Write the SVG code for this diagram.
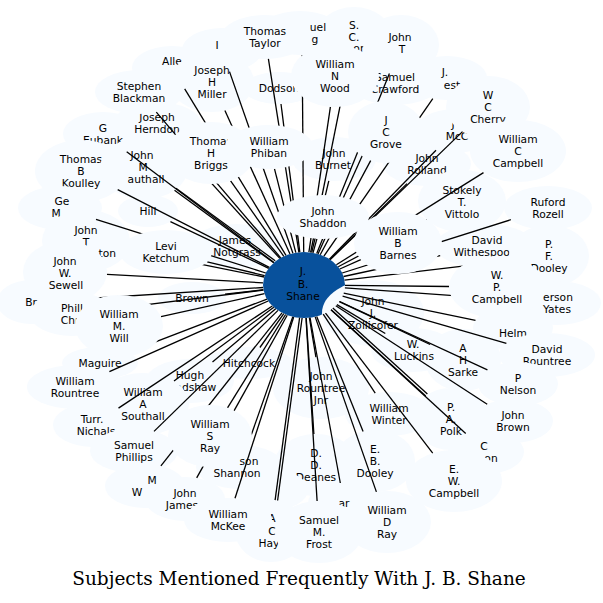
<svg xmlns="http://www.w3.org/2000/svg" width="603" height="603" viewBox="0 0 603 603">
<style>
.n ellipse{fill:#f7fbff;stroke:none}
text{font-family:"DejaVu Sans","Liberation Sans",sans-serif;font-size:10.7px;text-anchor:middle;fill:#000}
#edges path{stroke:#000;stroke-width:1.3;fill:none}
.title{font-family:"DejaVu Serif","Liberation Serif",serif;font-size:18.5px}
</style>
<rect width="603" height="603" fill="#fff"/>
<g id="under">
<g id="n-i" class="n"><ellipse cx="222" cy="50" rx="40" ry="22"/><text x="217" y="49">I</text></g>
<g id="n-sc" class="n"><ellipse cx="354" cy="37" rx="38" ry="30"/><text x="354" y="29">S.</text><text x="354" y="41">C.</text><text x="362" y="52">ore</text></g>
<g id="n-uel" class="n"><ellipse cx="300" cy="33" rx="42" ry="22"/><text x="318" y="31">uel</text><text x="315" y="43">g</text></g>
<g id="n-johnt" class="n"><ellipse cx="401" cy="45" rx="38" ry="30"/><text x="400" y="41">John</text><text x="402" y="53">T</text></g>
<g id="n-alle" class="n"><ellipse cx="172" cy="68" rx="40" ry="22"/><text x="172" y="65">Alle</text></g>
<g id="n-jest" class="n"><ellipse cx="447" cy="78" rx="40" ry="22"/><text x="445" y="76">J.</text><text x="452" y="89">est</text></g>
<g id="n-eubank" class="n"><ellipse cx="103" cy="134" rx="40" ry="22"/><text x="103" y="132">G<tspan x="103" dy="12">Eubank</tspan></text></g>
<g id="n-herndon" class="n"><ellipse cx="157" cy="124" rx="44" ry="22"/><text x="157" y="121">Joseph<tspan x="157" dy="12">Herndon</tspan></text></g>
<g id="n-blackman" class="n"><ellipse cx="139" cy="92" rx="44" ry="22"/><text x="139" y="90">Stephen<tspan x="139" dy="12">Blackman</tspan></text></g>
<g id="n-koulley" class="n"><ellipse cx="81" cy="171" rx="46" ry="31"/><text x="81" y="163">Thomas<tspan x="81" dy="12">B</tspan><tspan x="81" dy="12">Koulley</tspan></text></g>
<g id="n-gem" class="n"><ellipse cx="60" cy="208" rx="42" ry="22"/><text x="62" y="205">Ge</text><text x="56" y="217">M</text></g>
<g id="n-johnton" class="n"><ellipse cx="86" cy="241" rx="44" ry="31"/><text x="86" y="234">John<tspan x="86" dy="12">T</tspan></text><text x="116" y="257" style="text-anchor:end">ton</text></g>
<g id="n-authall" class="n"><ellipse cx="144" cy="168" rx="44" ry="31"/><text x="142" y="159">John</text><text x="143" y="171">M</text><text x="146" y="183">authall</text></g>
<g id="n-miller" class="n"><ellipse cx="212" cy="82" rx="42" ry="30"/><text x="212" y="74">Joseph<tspan x="212" dy="12">H</tspan><tspan x="212" dy="12">Miller</tspan></text></g>
<g id="n-taylor" class="n"><ellipse cx="265" cy="37" rx="44" ry="22"/><text x="265" y="35">Thomas<tspan x="265" dy="12">Taylor</tspan></text></g>
<g id="n-crawford" class="n"><ellipse cx="395" cy="83" rx="46" ry="22"/><text x="395" y="81">Samuel<tspan x="395" dy="12">Crawford</tspan></text></g>
<g id="n-mcc" class="n"><ellipse cx="455" cy="131" rx="40" ry="22"/><text x="453" y="128">J</text><text x="457" y="140">McC</text></g>
<g id="n-cherry" class="n"><ellipse cx="488" cy="107" rx="42" ry="31"/><text x="488" y="99">W<tspan x="488" dy="12">C</tspan><tspan x="488" dy="12">Cherry</tspan></text></g>
<g id="n-rolland" class="n"><ellipse cx="427" cy="164" rx="44" ry="22"/><text x="427" y="162">John<tspan x="427" dy="12">Rolland</tspan></text></g>
<g id="n-wccampbell" class="n"><ellipse cx="518" cy="151" rx="48" ry="31"/><text x="518" y="143">William<tspan x="518" dy="12">C</tspan><tspan x="518" dy="12">Campbell</tspan></text></g>
<g id="n-stokely" class="n"><ellipse cx="462" cy="201" rx="44" ry="31"/><text x="462" y="194">Stokely<tspan x="462" dy="12">T.</tspan><tspan x="462" dy="12">Vittolo</tspan></text></g>
<g id="n-ruford" class="n"><ellipse cx="548" cy="208" rx="44" ry="22"/><text x="548" y="206">Ruford<tspan x="548" dy="12">Rozell</tspan></text></g>
<g id="n-withespoon" class="n"><ellipse cx="485" cy="246" rx="50" ry="22"/><text x="487" y="244">David</text><text x="485" y="256">Withespoon</text></g>
<g id="n-pfdooley" class="n"><ellipse cx="549" cy="256" rx="40" ry="31"/><text x="549" y="248">P.<tspan x="549" dy="12">F.</tspan><tspan x="549" dy="12">Dooley</tspan></text></g>
<g id="n-yates" class="n"><ellipse cx="557" cy="303" rx="44" ry="22"/><text x="558" y="301">erson</text><text x="557" y="313">Yates</text></g>
<g id="n-helm" class="n"><ellipse cx="513" cy="328" rx="40" ry="22"/><text x="513" y="337">Helm</text></g>
<g id="n-drountree" class="n"><ellipse cx="547" cy="355" rx="48" ry="22"/><text x="547" y="353">David<tspan x="547" dy="12">Rountree</tspan></text></g>
<g id="n-sarke" class="n"><ellipse cx="463" cy="360" rx="38" ry="31"/><text x="463" y="352">A<tspan x="463" dy="12">H</tspan><tspan x="463" dy="12">Sarke</tspan></text></g>
<g id="n-luckins" class="n"><ellipse cx="413" cy="350" rx="42" ry="22"/><text x="413" y="348">W.</text><text x="414" y="360">Luckins</text></g>
<g id="n-nelson" class="n"><ellipse cx="518" cy="384" rx="40" ry="22"/><text x="518" y="382">P<tspan x="518" dy="12">Nelson</tspan></text></g>
<g id="n-jbrown" class="n"><ellipse cx="513" cy="421" rx="40" ry="22"/><text x="513" y="419">John<tspan x="513" dy="12">Brown</tspan></text></g>
<g id="n-con" class="n"><ellipse cx="486" cy="452" rx="38" ry="22"/><text x="484" y="450">C</text><text x="491" y="462">on</text></g>
<g id="n-polk" class="n"><ellipse cx="451" cy="419" rx="38" ry="31"/><text x="451" y="411">P.<tspan x="451" dy="12">A.</tspan><tspan x="451" dy="12">Polk</tspan></text></g>
<g id="n-ewcampbell" class="n"><ellipse cx="454" cy="481" rx="48" ry="31"/><text x="454" y="473">E.<tspan x="454" dy="12">W.</tspan><tspan x="454" dy="12">Campbell</tspan></text></g>
<g id="n-winter" class="n"><ellipse cx="389" cy="414" rx="44" ry="22"/><text x="389" y="412">William<tspan x="389" dy="12">Winter</tspan></text></g>
<g id="n-ebdooley" class="n"><ellipse cx="375" cy="461" rx="40" ry="31"/><text x="375" y="453">E.<tspan x="375" dy="12">B.</tspan><tspan x="375" dy="12">Dooley</tspan></text></g>
<g id="n-ar" class="n"><ellipse cx="344" cy="503" rx="36" ry="20"/><text x="344" y="507">ar</text></g>
<g id="n-wdray" class="n"><ellipse cx="387" cy="522" rx="44" ry="31"/><text x="387" y="514">William<tspan x="387" dy="12">D</tspan><tspan x="387" dy="12">Ray</tspan></text></g>
<g id="n-hay" class="n"><ellipse cx="271" cy="531" rx="36" ry="31"/><text x="272" y="522">A</text><text x="272" y="535">C</text><text x="269" y="547">Hay</text></g>
<g id="n-frost" class="n"><ellipse cx="319" cy="532" rx="44" ry="31"/><text x="319" y="524">Samuel<tspan x="319" dy="12">M.</tspan><tspan x="319" dy="12">Frost</tspan></text></g>
<g id="n-deanes" class="n"><ellipse cx="316" cy="465" rx="42" ry="31"/><text x="316" y="457">D.<tspan x="316" dy="12">D.</tspan><tspan x="316" dy="12">Deanes</tspan></text></g>
<g id="n-mp" class="n"><ellipse cx="272" cy="490" rx="36" ry="20"/></g>
<g id="n-mw" class="n"><ellipse cx="145" cy="486" rx="40" ry="22"/><text x="152" y="484">M</text><text x="137" y="496">W</text></g>
<g id="n-jjames" class="n"><ellipse cx="185" cy="499" rx="40" ry="22"/><text x="185" y="497">John</text><text x="182" y="509">James</text></g>
<g id="n-mckee" class="n"><ellipse cx="228" cy="520" rx="44" ry="22"/><text x="228" y="518">William<tspan x="228" dy="12">McKee</tspan></text></g>
<g id="n-shannon" class="n"><ellipse cx="240" cy="467" rx="44" ry="22"/><text x="249" y="465">son</text><text x="237" y="477">Shannon</text></g>
<g id="n-nichals" class="n"><ellipse cx="93" cy="425" rx="40" ry="22"/><text x="92" y="423">Turr.</text><text x="96" y="435">Nichals</text></g>
<g id="n-sphillips" class="n"><ellipse cx="134" cy="451" rx="44" ry="22"/><text x="134" y="449">Samuel<tspan x="134" dy="12">Phillips</tspan></text></g>
<g id="n-bradshaw" class="n"><ellipse cx="190" cy="381" rx="44" ry="22"/><text x="190" y="379">Hugh<tspan x="190" dy="12">Bradshaw</tspan></text></g>
<g id="n-southall" class="n"><ellipse cx="143" cy="404" rx="46" ry="31"/><text x="143" y="396">William<tspan x="143" dy="12">A</tspan><tspan x="143" dy="12">Southall</tspan></text></g>
<g id="n-wrountree" class="n"><ellipse cx="75" cy="387" rx="48" ry="22"/><text x="75" y="385">William<tspan x="75" dy="12">Rountree</tspan></text></g>
<g id="n-maguire" class="n"><ellipse cx="100" cy="363" rx="38" ry="16"/><text x="100" y="367">Maguire</text></g>
<g id="n-br" class="n"><ellipse cx="31" cy="302" rx="34" ry="22"/><text x="31" y="306">Br</text></g>
<g id="n-sewell" class="n"><ellipse cx="65" cy="272" rx="42" ry="31"/><text x="65" y="265">John<tspan x="65" dy="12">W.</tspan><tspan x="66" dy="12">Sewell</tspan></text></g>
<g id="n-hill" class="n"><ellipse cx="148" cy="211" rx="30" ry="16"/><text x="148" y="215">Hill</text></g>
<g id="n-notgrass" class="n"><ellipse cx="236" cy="246" rx="46" ry="22"/><text x="235" y="244">James</text><text x="237" y="256">Notgrass</text></g>
<g id="n-brown" class="n"><ellipse cx="192" cy="298" rx="34" ry="16"/><text x="192" y="302">Brown</text></g>
<g id="n-hitchcock" class="n"><ellipse cx="249" cy="363" rx="44" ry="16"/><text x="249" y="367">Hitchcock</text></g>
<g id="n-rjnr" class="n"><ellipse cx="321" cy="388" rx="48" ry="31"/><text x="321" y="380">John<tspan x="321" dy="12">Rountree</tspan><tspan x="321" dy="12">Jnr</tspan></text></g>
<g id="n-burnet" class="n"><ellipse cx="334" cy="159" rx="42" ry="22"/><text x="334" y="157">John</text><text x="333" y="169">Burnet</text></g>
<g id="n-dodson" class="n"><ellipse cx="279" cy="88" rx="36" ry="16"/><text x="279" y="92">Dodson</text></g>
<g id="n-center"><ellipse cx="304" cy="285" rx="41" ry="33" fill="#08519c"/><text x="303" y="275">J.<tspan x="303" dy="12.5">B.</tspan><tspan x="303" dy="12.5">Shane</tspan></text></g>
<g id="n-zollicofer" class="n"><ellipse cx="373" cy="313" rx="51" ry="33"/><text x="373" y="305">John<tspan x="373" dy="12">J.</tspan><tspan x="373" dy="12">Zollicofer</tspan></text></g>
</g>
<g id="edges">
<path d="M303.7,252L302.2,55"/>
<path d="M298.9,252.3L268.4,58.9"/>
<path d="M310.6,252.5L348,66.6"/>
<path d="M316.7,253.6L389.4,73.6"/>
<path d="M290,254L224.9,110.5"/>
<path d="M286,255.4L184.7,88.8"/>
<path d="M292.9,253.2L229.5,71.6"/>
<path d="M280.7,257.8L156.3,112.2"/>
<path d="M279.8,258.4L175.2,143.1"/>
<path d="M274,262.5L126.7,151.8"/>
<path d="M269.3,267.3L117.7,189.7"/>
<path d="M273.7,262.8L174.5,190.3"/>
<path d="M275.2,260.8L176,188.3"/>
<path d="M283.8,256.3L230.6,180.8"/>
<path d="M295.8,252.6L274.5,168.8"/>
<path d="M299.8,252.2L281,104"/>
<path d="M308.9,252.2L330.4,106.9"/>
<path d="M318,254L385.3,104.5"/>
<path d="M323.9,256.2L432.8,98.6"/>
<path d="M330.2,259.6L462.5,131.6"/>
<path d="M320.2,254.7L370.8,160.4"/>
<path d="M329.4,259.1L436,150.3"/>
<path d="M336.4,264.7L483.5,172.6"/>
<path d="M330,259.5L407,183.6"/>
<path d="M311.7,252.5L328.8,180.8"/>
<path d="M338.2,266.8L426.9,219.7"/>
<path d="M342.2,273L510.8,219.7"/>
<path d="M343.6,276.5L440.2,255.7"/>
<path d="M344.5,280.2L509.5,260.7"/>
<path d="M345,285.4L449,286.5"/>
<path d="M344.9,287.9L513.4,299.9"/>
<path d="M343.7,293.2L475.5,320.3"/>
<path d="M342.6,296.1L506.4,343.3"/>
<path d="M339.3,301.7L430.1,344.5"/>
<path d="M336.9,304.6L385.3,333.5"/>
<path d="M339.8,269L360.8,259.6"/>
<path d="M313,252.8L316.9,238.8"/>
<path d="M264.7,275.6L207.2,261.9"/>
<path d="M268.7,268.3L170.4,221.6"/>
<path d="M265.8,273L96,219.3"/>
<path d="M264.2,277L128.3,249.6"/>
<path d="M263,282.8L107,274.3"/>
<path d="M263.1,287.5L65,300"/>
<path d="M263.4,290.1L112.9,308.9"/>
<path d="M264.5,293.7L161,316.7"/>
<path d="M263.3,289.7L225,294.2"/>
<path d="M267,299.1L128.1,352.3"/>
<path d="M268.2,301L109.4,371.7"/>
<path d="M275.7,308.8L212.5,362.1"/>
<path d="M273.8,307.3L174,381.1"/>
<path d="M272.3,306L118.5,408.1"/>
<path d="M278,310.4L154,431.4"/>
<path d="M282,312.8L160.9,465.9"/>
<path d="M287.2,315.2L196.7,477.9"/>
<path d="M285.6,314.5L227.5,407.8"/>
<path d="M283.8,313.7L259.9,347.5"/>
<path d="M309.4,317.9L315.9,357.2"/>
<path d="M292.8,316.8L247.6,445.3"/>
<path d="M306.2,318L313.9,434"/>
<path d="M316.7,316.4L363.1,431.4"/>
<path d="M323.2,314.1L375.2,393.1"/>
<path d="M310,317.5L340.3,483"/>
<path d="M293.7,317L235,498.3"/>
<path d="M299.6,317.7L275.1,500.2"/>
<path d="M302.1,318L277.6,500.5"/>
<path d="M306,318L317.1,501"/>
<path d="M315.2,316.9L376.4,491.9"/>
<path d="M331.1,309.7L425.7,395.9"/>
<path d="M332.8,307.9L427.4,394.1"/>
<path d="M339.6,301.5L487.4,369.8"/>
<path d="M335.8,305.7L487.2,404.2"/>
<path d="M331,309.8L465.7,433.4"/>
<path d="M325.5,313.1L432.7,453.2"/>
</g>
<g id="over">
<g id="n-briggs" class="n"><ellipse cx="211" cy="153" rx="44" ry="31"/><text x="211" y="145">Thomas<tspan x="211" dy="12">H</tspan><tspan x="211" dy="12">Briggs</tspan></text></g>
<g id="n-phiban" class="n"><ellipse cx="269" cy="147" rx="44" ry="22"/><text x="269" y="145">William<tspan x="269" dy="12">Phiban</tspan></text></g>
<g id="n-wood" class="n"><ellipse cx="335" cy="76" rx="44" ry="31"/><text x="335" y="68">William<tspan x="335" dy="12">N</tspan><tspan x="335" dy="12">Wood</tspan></text></g>
<g id="n-grove" class="n"><ellipse cx="386" cy="132" rx="38" ry="31"/><text x="386" y="124">J<tspan x="386" dy="12">C</tspan><tspan x="386" dy="12">Grove</tspan></text></g>
<g id="n-shaddon" class="n"><ellipse cx="323" cy="217" rx="46" ry="22"/><text x="323" y="215">John<tspan x="323" dy="12">Shaddon</tspan></text></g>
<g id="n-barnes" class="n"><ellipse cx="398" cy="243" rx="44" ry="31"/><text x="398" y="235">William<tspan x="398" dy="12">B</tspan><tspan x="398" dy="11.5">Barnes</tspan></text></g>
<g id="n-ketchum" class="n"><ellipse cx="166" cy="252" rx="46" ry="22"/><text x="166" y="250">Levi<tspan x="166" dy="12">Ketchum</tspan></text></g>
<g id="n-phill" class="n"><ellipse cx="72" cy="314" rx="42" ry="22"/><text x="72" y="312">Phill</text><text x="70" y="324">Chr</text></g>
<g id="n-will" class="n"><ellipse cx="119" cy="326" rx="44" ry="31"/><text x="119" y="318">William<tspan x="119" dy="12">M.</tspan><tspan x="119" dy="12">Will</tspan></text></g>
<g id="n-wpcampbell" class="n"><ellipse cx="497" cy="287" rx="48" ry="31"/><text x="497" y="279">W.<tspan x="497" dy="12">P.</tspan><tspan x="497" dy="12">Campbell</tspan></text></g>
<g id="n-wsray" class="n"><ellipse cx="210" cy="436" rx="42" ry="31"/><text x="210" y="428">William<tspan x="210" dy="12">S</tspan><tspan x="210" dy="12">Ray</tspan></text></g>
</g>
<text class="title" x="299" y="585">Subjects Mentioned Frequently With J. B. Shane</text>
</svg>
